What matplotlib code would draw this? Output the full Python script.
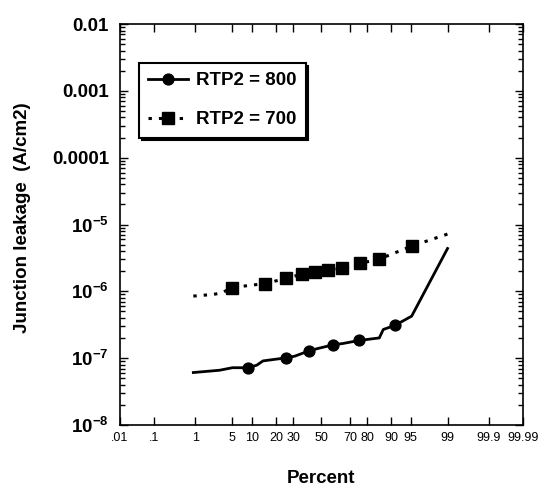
import numpy as np
import matplotlib
matplotlib.use("Agg")
import matplotlib.pyplot as plt
from matplotlib.lines import Line2D
from matplotlib.ticker import FixedLocator, LogLocator, NullFormatter
from statistics import NormalDist

plt.rcParams["font.family"] = ["Liberation Sans", "DejaVu Sans"]
plt.rcParams["mathtext.fontset"] = "custom"
plt.rcParams["mathtext.rm"] = "Liberation Sans"
plt.rcParams["mathtext.bf"] = "Liberation Sans:bold"

# RTP2 = 800 (percent, A/cm2)
p800 = [0.9, 3, 5, 8.7, 11.6, 14, 18.7, 25.6, 31, 41, 47.5, 58.4, 65.4, 75.6,
        85.7, 87.3, 91.2, 95.2, 99]
v800 = [6.1e-8, 6.6e-8, 7.2e-8, 7.2e-8, 7.85e-8, 9.1e-8, 9.55e-8, 1.01e-7,
        1.07e-7, 1.29e-7, 1.40e-7, 1.58e-7, 1.66e-7, 1.84e-7, 2.01e-7, 2.69e-7,
        3.09e-7, 4.26e-7, 4.38e-6]
mark800 = [3, 7, 9, 11, 13, 16]

# RTP2 = 700
p700 = [0.9, 2.3, 3.3, 4.9, 14.9, 25.6, 35.7, 45.2, 55, 64.5, 76.1, 85.6, 95.2, 99]
v700 = [8.5e-7, 9.0e-7, 9.5e-7, 1.14e-6, 1.31e-6, 1.56e-6, 1.81e-6, 1.94e-6,
        2.07e-6, 2.20e-6, 2.62e-6, 3.03e-6, 4.75e-6, 7.2e-6]
mark700 = [3, 4, 5, 6, 7, 8, 9, 10, 11, 12]

xticks = [0.01, 0.1, 1, 5, 10, 20, 30, 50, 70, 80, 90, 95, 99, 99.9, 99.99]
xticklabels = [".01", ".1", "1", "5", "10", "20", "30", "50", "70", "80",
               "90", "95", "99", "99.9", "99.99"]
yticks = [1e-8, 1e-7, 1e-6, 1e-5, 1e-4, 1e-3, 1e-2]
yticklabels = [r"$\mathbf{10^{-8}}$", r"$\mathbf{10^{-7}}$", r"$\mathbf{10^{-6}}$",
               r"$\mathbf{10^{-5}}$", "0.0001", "0.001", "0.01"]

nd = NormalDist()


def prob_fwd(p):
    # percent -> normal quantile (probability paper)
    a = np.asarray(p, dtype=float)
    res = np.full(a.size, np.nan)
    for i, v in enumerate(a.ravel()):
        if np.isfinite(v):
            q = min(max(v / 100.0, 1e-9), 1 - 1e-9)
            res[i] = nd.inv_cdf(q)
    return res.reshape(a.shape)


def prob_inv(z):
    a = np.asarray(z, dtype=float)
    res = np.array([100.0 * nd.cdf(v) if np.isfinite(v) else np.nan
                    for v in a.ravel()])
    return res.reshape(a.shape)


fig = plt.figure(figsize=(5.47, 4.95), dpi=100)
ax = fig.add_axes([0.2194, 0.1414, 0.7367, 0.810])
ax.set_xscale("function", functions=(prob_fwd, prob_inv))
ax.set_yscale("log")

ax.plot(p800, v800, color="black", lw=2.0, marker="o", ms=7.8,
        markevery=mark800)
ax.plot(p700, v700, color="black", lw=2.2, ls=(0, (1.1, 2.3)), marker="s",
        ms=8.6, markevery=mark700)

ax.set_xlim(0.01, 99.99)
ax.set_ylim(1e-8, 1e-2)

ax.xaxis.set_major_locator(FixedLocator(xticks))
ax.set_xticklabels(xticklabels)
ax.xaxis.set_minor_locator(FixedLocator([]))
ax.yaxis.set_major_locator(FixedLocator(yticks))
ax.set_yticklabels(yticklabels)
ax.yaxis.set_minor_locator(LogLocator(base=10, subs=np.arange(2, 10)))
ax.yaxis.set_minor_formatter(NullFormatter())

ax.tick_params(axis="both", which="both", direction="in", top=True, right=True,
               width=1.0)
ax.tick_params(axis="both", which="major", length=6)
ax.tick_params(axis="y", which="minor", length=3.5)
ax.tick_params(axis="x", labelsize=9, pad=5)
ax.tick_params(axis="y", labelsize=13.5, pad=8)
for lbl in ax.get_yticklabels():
    lbl.set_fontweight("bold")
for sp in ax.spines.values():
    sp.set_linewidth(1.2)

ax.set_xlabel("Percent", fontsize=13.5, fontweight="bold")
ax.xaxis.set_label_coords(0.5, -0.112)
ax.set_ylabel("Junction leakage  (A/cm2)", fontsize=13.5, fontweight="bold")
ax.yaxis.set_label_coords(-0.22, 0.517)

handles = [
    Line2D([], [], color="black", lw=2.0, marker="o", ms=7.8),
    Line2D([], [], color="black", lw=2.2, ls=(0, (1.1, 2.3)), marker="s", ms=8.6),
]
leg = ax.legend(handles, ["RTP2 = 800", "RTP2 = 700"], loc="upper left",
                bbox_to_anchor=(0.047, 0.903), borderaxespad=0, fancybox=False,
                shadow={"color": "black", "alpha": 1}, framealpha=1,
                edgecolor="black", handlelength=2.13, handletextpad=0.4,
                labelspacing=1.15, borderpad=0.5,
                prop={"size": 13.5, "weight": "bold"})
leg.get_frame().set_linewidth(1.5)

fig.savefig("out.png", dpi=100)
